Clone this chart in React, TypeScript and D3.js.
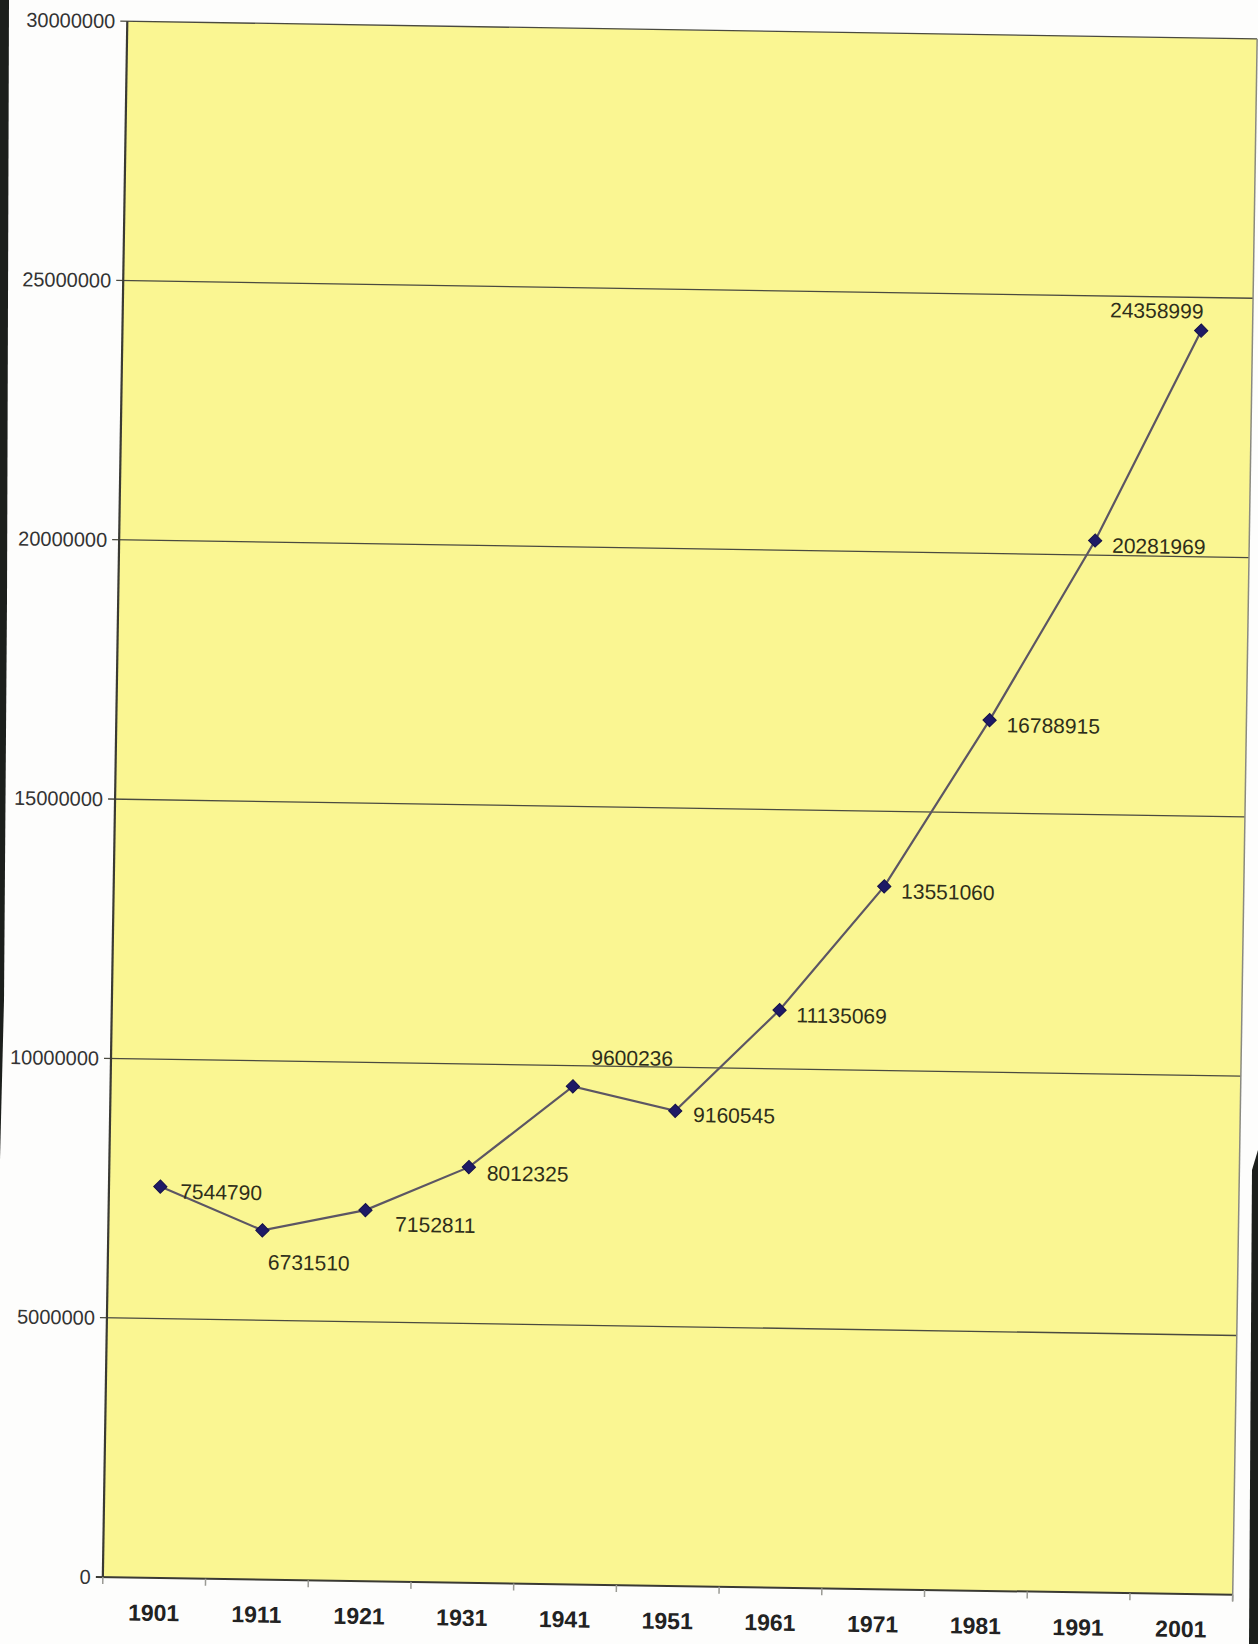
import React from "react";
import * as d3 from "d3";

const years = ["1901", "1911", "1921", "1931", "1941", "1951", "1961", "1971", "1981", "1991", "2001"];
const population = [7544790, 6731510, 7152811, 8012325, 9600236, 9160545, 11135069, 13551060, 16788915, 20281969, 24358999];
const yTicks = [0, 5000000, 10000000, 15000000, 20000000, 25000000, 30000000];

// label placement (dx, dy, anchor) per point
const labelPlacement: [number, number, string][] = [
  [20, 12, "start"],
  [6, 39, "start"],
  [30, 21, "start"],
  [18, 13, "start"],
  [18, -22, "start"],
  [18, 11, "start"],
  [17, 12, "start"],
  [17, 12, "start"],
  [17, 12, "start"],
  [17, 12, "start"],
  [2, -12, "end"],
];

const W = 1258;
const H = 1644;
const M = { left: 115, right: 1245, top: 30, bottom: 1586 };
const ROT = 0.9;
const CX = 680;
const CY = 808;
const FONT = "'Liberation Sans', Arial, Helvetica, sans-serif";

export default function App() {
  const x = d3.scaleBand<string>().domain(years).range([M.left, M.right]).paddingInner(0).paddingOuter(0);
  const y = d3.scaleLinear().domain([0, 30000000]).range([M.bottom, M.top]);
  const cx = (i: number) => (x(years[i]) as number) + x.bandwidth() / 2;
  const line = d3
    .line<number>()
    .x((_, i) => cx(i))
    .y((d) => y(d));
  const diamond = d3.symbol().type(d3.symbolSquare).size(88)() as string;
  const boundaries = years.map((_, i) => M.left + i * x.bandwidth()).concat([M.right]);

  return (
    <svg
      width={W}
      height={H}
      viewBox={`0 0 ${W} ${H}`}
      style={{ position: "absolute", left: 0, top: 0, background: "#ffffff", fontFamily: FONT }}
    >
      <rect x={0} y={0} width={W} height={H} fill="#fdfdfc" />
      {/* scan edge artifacts */}
      <polygon points="0,0 9,0 7,600 4,1000 0,1160" fill="#1c1f1c" />
      <polygon points="1252,1170 1258,1150 1258,1644 1249,1644" fill="#1c1f1c" />
      <g transform={`rotate(${ROT},${CX},${CY})`}>
        <rect x={M.left} y={M.top} width={M.right - M.left} height={M.bottom - M.top} fill="#faf692" />
        {/* gridlines */}
        {yTicks.map((t) => (
          <line
            key={"g" + t}
            x1={M.left - 7}
            x2={M.right}
            y1={y(t)}
            y2={y(t)}
            stroke={t === 0 ? "#3a3a33" : "#4a4a40"}
            strokeWidth={t === 0 ? 2 : 1.3}
          />
        ))}
        {/* plot border */}
        <line x1={M.right} x2={M.right} y1={M.top} y2={M.bottom + 6} stroke="#8a8a80" strokeWidth={1.5} />
        <line x1={M.left} x2={M.left} y1={M.top} y2={M.bottom} stroke="#3a3a33" strokeWidth={2.2} />
        {/* x ticks */}
        {boundaries.map((b, i) => (
          <line key={"xt" + i} x1={b} x2={b} y1={M.bottom} y2={M.bottom + 7} stroke="#9a9a94" strokeWidth={1.5} />
        ))}
        {/* y labels */}
        {yTicks.map((t) => (
          <text
            key={"yl" + t}
            x={M.left - 12}
            y={y(t)}
            dy="0.36em"
            textAnchor="end"
            style={{ fontFamily: FONT }}
            fontSize={20}
            fill="#333333"
          >
            {t}
          </text>
        ))}
        {/* x labels */}
        {years.map((yr, i) => (
          <text
            key={"xl" + yr}
            x={cx(i)}
            y={M.bottom + 43}
            textAnchor="middle"
            style={{ fontFamily: FONT }}
            fontWeight="bold"
            fontSize={23}
            fill="#222222"
          >
            {yr}
          </text>
        ))}
        {/* series line */}
        <path d={line(population) as string} fill="none" stroke="#5c5664" strokeWidth={2.2} />
        {population.map((v, i) => (
          <path
            key={"m" + i}
            d={diamond}
            transform={`translate(${cx(i)},${y(v)}) rotate(45)`}
            fill="#1e1a66"
            stroke="#15124a"
            strokeWidth={1}
          />
        ))}
        {population.map((v, i) => (
          <text
            key={"dl" + i}
            x={cx(i) + labelPlacement[i][0]}
            y={y(v) + labelPlacement[i][1]}
            textAnchor={labelPlacement[i][2] as any}
            style={{ fontFamily: FONT }}
            fontSize={21}
            fill="#2e2e1a"
          >
            {v}
          </text>
        ))}
      </g>
    </svg>
  );
}
